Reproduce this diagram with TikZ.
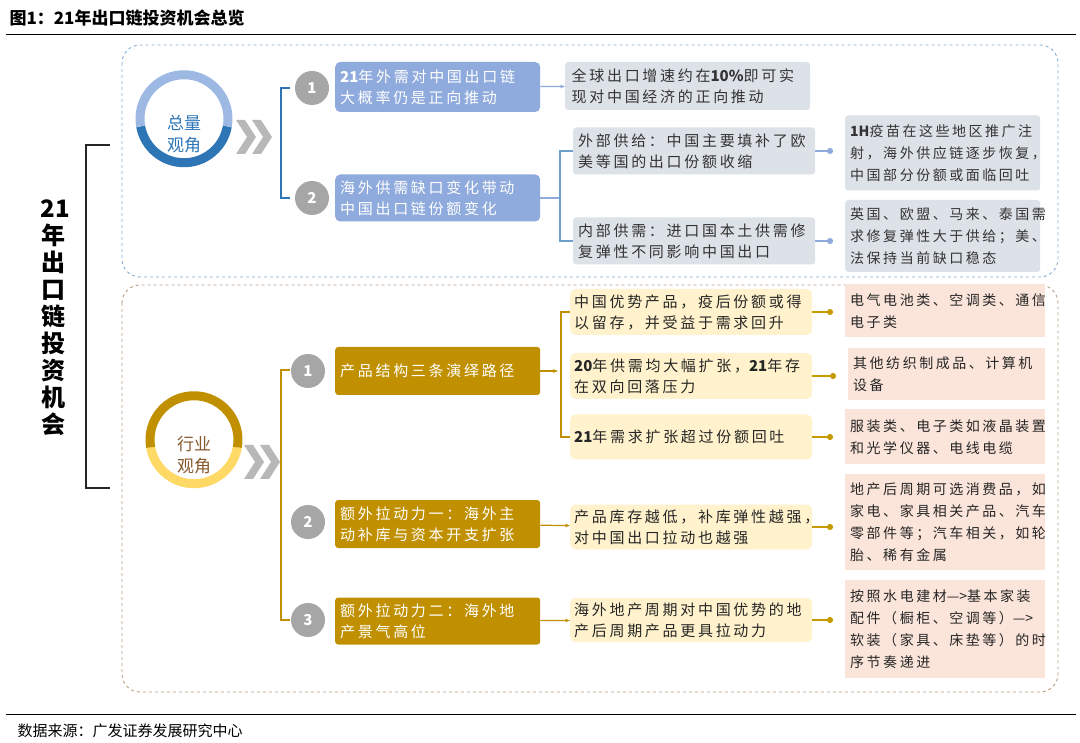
\documentclass[tikz,border=0pt]{standalone}
\usepackage{fontspec}
\setmainfont{Noto Sans CJK SC}
\newfontfamily\spc[LetterSpace=18]{Noto Sans CJK SC}
\newfontfamily\nsp{Noto Sans CJK SC}
\newcommand\lb[1]{{\nsp\bfseries #1}}
\usetikzlibrary{arrows.meta}
\definecolor{bluebox}{HTML}{8FAADC}
\definecolor{bluedark}{HTML}{2E75B6}
\definecolor{bluelight}{HTML}{9DB9E3}
\definecolor{graybox}{HTML}{DDE1E8}
\definecolor{goldbox}{HTML}{C09000}
\definecolor{goldlight}{HTML}{FFD966}
\definecolor{yelbox}{HTML}{FFF2CC}
\definecolor{pinkbox}{HTML}{FBE5DA}
\definecolor{numgray}{HTML}{A6A6A6}
\begin{document}
\begin{tikzpicture}[x=1pt,y=-1pt,
  txt/.style={font=\spc\fontsize{15}{21}\selectfont,align=left,inner sep=0pt},
  bbox/.style={fill=bluebox,rounded corners=5pt,text=white,txt},
  gbox/.style={fill=graybox,rounded corners=3pt,text=black!80,txt},
  obox/.style={fill=goldbox,rounded corners=3pt,text=white,txt},
  ybox/.style={fill=yelbox,rounded corners=6pt,text=black!85,txt},
  small/.style={font=\spc\fontsize{14}{22}\selectfont},
  pbox/.style={fill=pinkbox,text=black!85,txt,small},
  num/.style={circle,fill=numgray,text=white,minimum size=34pt,inner sep=0pt,font=\bfseries\fontsize{15}{15}\selectfont},
  dotline/.style={line width=1.8pt,-{Circle[length=6pt]}},
  arr/.style={line width=1.2pt,-{Stealth[length=5pt]}}]
\useasboundingbox (0,0) rectangle (1080,743);
\node[anchor=west,font=\bfseries\fontsize{17}{17}\selectfont] (title) at (6,18) {图1：21年出口链投资机会总览};
\draw[line width=0.8pt] (6,34) -- (1076,34);
\draw[line width=0.8pt] (6,714) -- (1076,714);
\node[anchor=west,font=\fontsize{15}{15}\selectfont] (src) at (14,731) {数据来源：广发证券发展研究中心};
% frames
\draw[dashed,bluedark!60,line width=0.9pt,rounded corners=18pt] (122,45) rectangle (1058,277);
\draw[dashed,brown!70!black!60,line width=0.9pt,rounded corners=18pt] (122,285) rectangle (1058,692);
% left bracket and vertical title
\draw[line width=2pt,black!85] (110,145) -- (86,145) -- (86,488) -- (110,488);
\node[font=\bfseries\fontsize{24}{27}\selectfont,align=center,text width=26pt] (vt) at (54,318) {21\\年\\出\\口\\链\\投\\资\\机\\会};
% top circle
\coordinate (c1) at (184,134);
\draw[bluedark,line width=9pt] ([shift={(-10:44)}]c1) arc[start angle=10,end angle=170,radius=44];
\draw[bluelight,line width=9pt] ([shift={(190:44)}]c1) arc[start angle=-190,end angle=10,radius=44];
\node[text=bluedark,font=\fontsize{17}{22}\selectfont,align=center] (t1) at (c1) {总量\\观角};
% bottom circle
\coordinate (c2) at (194,455);
\draw[goldlight,line width=9pt] ([shift={(-10:44)}]c2) arc[start angle=10,end angle=170,radius=44];
\draw[goldbox,line width=9pt] ([shift={(190:44)}]c2) arc[start angle=-190,end angle=10,radius=44];
\node[text=brown!70!black,font=\fontsize{17}{22}\selectfont,align=center] (t2) at (c2) {行业\\观角};
% chevrons
\foreach \x/\y in {236/137,252/137,244/462,260/462}{
  \fill[numgray!80] (\x,\y-17) -- (\x+9,\y-17) -- (\x+20,\y) -- (\x+9,\y+17) -- (\x,\y+17) -- (\x+11,\y) -- cycle;}
% top blue branch
\draw[bluedark,line width=2pt] (290,88) -- (281,88) -- (281,198) -- (290,198);
\node[num] (n1) at (312,88) {1};
\node[num] (n2) at (312,198) {2};
\node[bbox,minimum width=205pt,minimum height=50pt,text width=195pt,anchor=west] (b1) at (335,87) {\lb{21}年外需对中国出口链\\大概率仍是正向推动};
\node[bbox,minimum width=205pt,minimum height=47pt,text width=195pt,anchor=west] (b2) at (335,198) {海外供需缺口变化带动\\中国出口链份额变化};
\node[gbox,minimum width=245pt,minimum height=48pt,text width=232pt,anchor=west] (g1) at (565,86) {全球出口增速约在\lb{10\%}即可实\\现对中国经济的正向推动};
\draw[arr,bluebox] (b1) -- (g1);
\node[gbox,minimum width=242pt,minimum height=47pt,text width=232pt,anchor=west] (g2) at (573,151) {外部供给：中国主要填补了欧\\美等国的出口份额收缩};
\node[gbox,minimum width=242pt,minimum height=47pt,text width=232pt,anchor=west] (g3) at (573,241) {内部供需：进口国本土供需修\\复弹性不同影响中国出口};
\coordinate (bj) at (560,198);
\draw[bluebox,line width=1.2pt] (b2) -- (bj);
\draw[bluedark!70,line width=1.2pt] (573,151) -- (560,151) -- (560,241) -- (573,241);
\node[gbox,small,minimum width=195pt,minimum height=75pt,text width=185pt,anchor=west] (r1) at (845,153) {\lb{1H}疫苗在这些地区推广注\\射，海外供应链逐步恢复，\\中国部分份额或面临回吐};
\node[gbox,small,minimum width=195pt,minimum height=72pt,text width=185pt,anchor=west] (r2) at (845,236) {英国、欧盟、马来、泰国需\\求修复弹性大于供给；美、\\法保持当前缺口稳态};
\draw[dotline,bluebox] (g2.east) -- ([xshift=-12pt]r1.west |- g2.east);
\draw[dotline,bluebox] (g3.east) -- ([xshift=-12pt]r2.west |- g3.east);
% bottom gold branch
\draw[goldbox,line width=2pt] (290,370) -- (281,370) -- (281,620) -- (290,620);
\node[num] (m1) at (308,371) {1};
\node[num] (m2) at (308,522) {2};
\node[num] (m3) at (308,620) {3};
\node[obox,minimum width=205pt,minimum height=48pt,text width=195pt,anchor=west] (o1) at (335,371) {产品结构三条演绎路径};
\node[obox,minimum width=205pt,minimum height=48pt,text width=195pt,anchor=west] (o2) at (335,524) {额外拉动力一：海外主\\动补库与资本开支扩张};
\node[obox,minimum width=205pt,minimum height=47pt,text width=195pt,anchor=west] (o3) at (335,621) {额外拉动力二：海外地\\产景气高位};
\coordinate (oj) at (558,371);
\draw[arr,goldbox] (o1) -- (oj);
\draw[goldbox,line width=1.2pt] (570,312) -- (561,312) -- (561,437) -- (570,437);
\node[ybox,minimum width=242pt,minimum height=46pt,text width=234pt,anchor=west] (y1) at (570,312) {中国优势产品，疫后份额或得\\以留存，并受益于需求回升};
\node[ybox,minimum width=242pt,minimum height=46pt,text width=234pt,anchor=west] (y2) at (570,376) {\lb{20}年供需均大幅扩张，\lb{21}年存\\在双向回落压力};
\node[ybox,minimum width=242pt,minimum height=45pt,text width=234pt,anchor=west] (y3) at (570,437) {\lb{21}年需求扩张超过份额回吐};
\node[ybox,minimum width=242pt,minimum height=45pt,text width=234pt,anchor=west] (y4) at (570,527) {产品库存越低，补库弹性越强，\\对中国出口拉动也越强};
\node[ybox,minimum width=242pt,minimum height=44pt,text width=234pt,anchor=west] (y5) at (570,620) {海外地产周期对中国优势的地\\产后周期产品更具拉动力};
\draw[arr,goldbox] (o2) -- (y4);
\draw[arr,goldbox] (o3) -- (y5);
\node[pbox,minimum width=200pt,minimum height=53pt,text width=190pt,anchor=west] (p1) at (845,311) {电气电池类、空调类、通信\\电子类};
\node[pbox,minimum width=197pt,minimum height=52pt,text width=187pt,anchor=west] (p2) at (848,374) {其他纺织制成品、计算机\\设备};
\node[pbox,minimum width=200pt,minimum height=55pt,text width=190pt,anchor=west] (p3) at (845,437) {服装类、电子类如液晶装置\\和光学仪器、电线电缆};
\node[pbox,minimum width=200pt,minimum height=95pt,text width=190pt,anchor=west] (p4) at (845,522) {地产后周期可选消费品，如\\家电、家具相关产品、汽车\\零部件等；汽车相关，如轮\\胎、稀有金属};
\node[pbox,minimum width=200pt,minimum height=98pt,text width=190pt,anchor=west] (p5) at (845,629) {按照水电建材{\nsp—>}基本家装\\配件（橱柜、空调等）{\nsp—>}\\软装（家具、床垫等）的时\\序节奏递进};
\foreach \a/\b in {y1/p1,y2/p2,y3/p3,y4/p4,y5/p5}{
  \draw[dotline,goldbox!90!yellow] (\a.east) -- ([xshift=-12pt]\b.west |- \a.east);}
\end{tikzpicture}
\end{document}
